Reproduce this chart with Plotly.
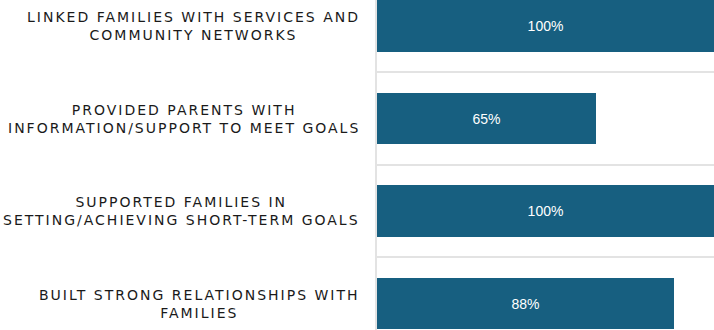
import plotly.graph_objects as go

categories = [
    "LINKED FAMILIES WITH SERVICES AND<br>COMMUNITY NETWORKS",
    "PROVIDED PARENTS WITH<br>INFORMATION/SUPPORT TO MEET GOALS",
    "SUPPORTED FAMILIES IN<br>SETTING/ACHIEVING SHORT-TERM GOALS",
    "BUILT STRONG RELATIONSHIPS WITH<br>FAMILIES",
]
values = [100, 65, 100, 88]
positions = list(range(len(categories)))
bar_color = "#175f80"

fig = go.Figure()
fig.add_trace(go.Bar(
    x=values,
    y=positions,
    orientation="h",
    width=0.56,
    marker=dict(color=bar_color, line=dict(width=0)),
    text=[f"{v}%" for v in values],
    textposition="inside",
    insidetextanchor="middle",
    textfont=dict(family="Liberation Sans, Arial, sans-serif", size=14, color="white"),
    hoverinfo="skip",
))

for p, c in zip(positions, categories):
    styled = "<br>".join(
        f'<span style="letter-spacing:2px">{line}</span>' for line in c.split("<br>")
    )
    fig.add_annotation(
        x=0, xref="paper", y=p, yref="y",
        text=styled, showarrow=False,
        xanchor="right", yanchor="middle", align="center",
        xshift=-15,
        font=dict(family="DejaVu Sans, sans-serif", size=14, color="#1a1a1a"),
    )

fig.update_layout(
    width=714, height=330,
    margin=dict(l=377, r=0, t=0, b=0),
    paper_bgcolor="white", plot_bgcolor="white",
    showlegend=False,
    bargap=0,
)
fig.update_xaxes(
    range=[0, 100], showgrid=False, showticklabels=False, zeroline=False,
    showline=False, fixedrange=True,
)
fig.update_yaxes(
    range=[len(categories) - 1 + 0.286, -0.281],
    tickvals=positions, showticklabels=False, showgrid=False, zeroline=False,
    showline=True, linecolor="#e3e3e3", linewidth=2,
    minor=dict(tickvals=[p + 0.5 for p in positions[:-1]], showgrid=True,
               gridcolor="#e3e3e3", gridwidth=2, ticks=""),
)

fig.write_html("out.html")
